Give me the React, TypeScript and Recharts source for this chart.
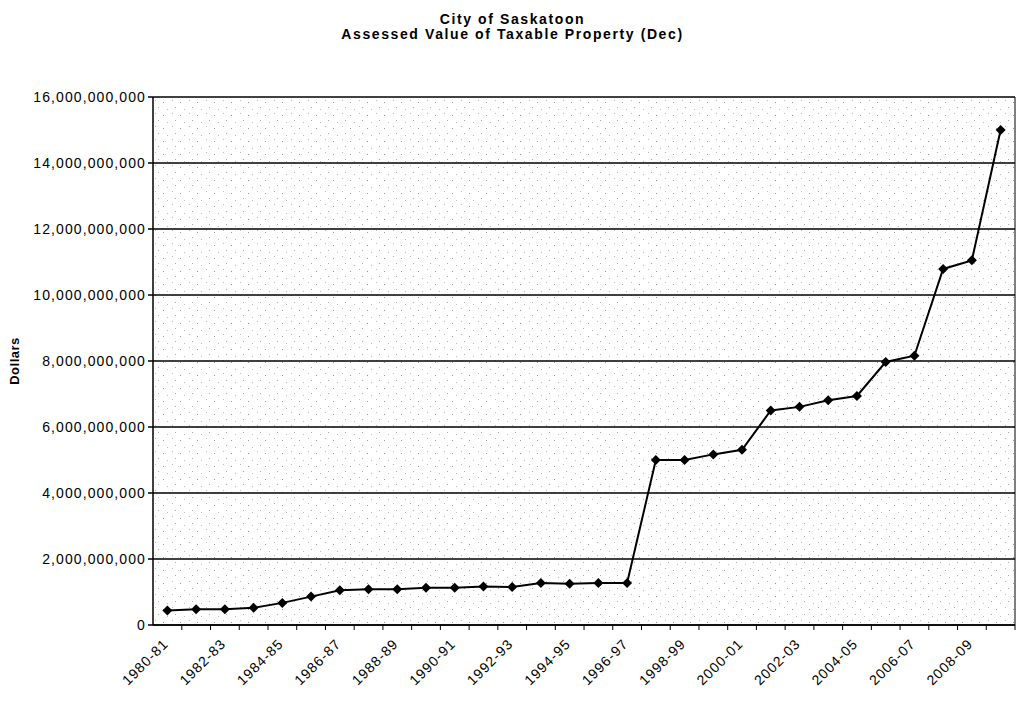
import { LineChart, Line, XAxis, YAxis, CartesianGrid } from "recharts";

const years = [
  "1980-81", "1981-82", "1982-83", "1983-84", "1984-85", "1985-86", "1986-87", "1987-88",
  "1988-89", "1989-90", "1990-91", "1991-92", "1992-93", "1993-94", "1994-95", "1995-96",
  "1996-97", "1997-98", "1998-99", "1999-00", "2000-01", "2001-02", "2002-03", "2003-04",
  "2004-05", "2005-06", "2006-07", "2007-08", "2008-09", "2009-10",
];

// billions of dollars
const assessedBillions = [
  0.44, 0.48, 0.48, 0.52, 0.67, 0.86, 1.05, 1.08, 1.08, 1.13, 1.13, 1.17, 1.15, 1.27, 1.25,
  1.27, 1.27, 5.0, 5.0, 5.17, 5.31, 6.5, 6.61, 6.81, 6.94, 7.97, 8.16, 10.79, 11.05, 15.0,
];

const yTicks = [0, 2e9, 4e9, 6e9, 8e9, 10e9, 12e9, 14e9, 16e9];

const data = years.map((year, i) => ({ year, value: assessedBillions[i] * 1e9 }));

const font = "Arial, 'Liberation Sans', sans-serif";
const halfStep = 14.4;

function Diamond(props: any) {
  const { cx, cy } = props;
  if (cx == null || cy == null) return null;
  const r = 5;
  return (
    <polygon
      points={`${cx},${cy - r} ${cx + r},${cy} ${cx},${cy + r} ${cx - r},${cy}`}
      fill="#000"
    />
  );
}

function YearTick(props: any) {
  const { x, y, payload, index } = props;
  return (
    <g>
      <line x1={x + halfStep} x2={x + halfStep} y1={y - 8} y2={y - 3} stroke="#000" />
      {index % 2 === 0 && (
        <g transform={`translate(${x - 1},${y + 9})`}>
          <text
            textAnchor="end"
            transform="rotate(-45)"
            fontSize={14}
            letterSpacing={1}
            fontFamily={font}
            fill="#000"
            dy={4}
          >
            {payload.value}
          </text>
        </g>
      )}
    </g>
  );
}

export default function App() {
  return (
    <div style={{ position: "relative", width: 1017, height: 694, fontFamily: font }}>
      <div
        style={{
          position: "absolute",
          top: 4,
          left: 0,
          width: 1009,
          textAlign: "center",
          fontWeight: "bold",
          fontSize: 14,
          letterSpacing: 1.6,
          lineHeight: "15px",
        }}
      >
        City of Saskatoon
        <br />
        Assessed Value of Taxable Property (Dec)
      </div>
      <div
        style={{
          position: "absolute",
          left: -23,
          top: 345,
          width: 60,
          height: 16,
          lineHeight: "16px",
          textAlign: "center",
          fontWeight: "bold",
          fontSize: 13,
          letterSpacing: 0.5,
          transform: "rotate(-90deg)",
        }}
      >
        Dollars
      </div>
      <svg width={0} height={0} style={{ position: "absolute" }}>
        <defs>
          <pattern id="stipple" width="17" height="13" patternUnits="userSpaceOnUse">
            <rect width="17" height="13" fill="#fff" />
            <rect x="2" y="3" width="1" height="1" fill="#999" />
            <rect x="11" y="1" width="1" height="1" fill="#bbb" />
            <rect x="14" y="8" width="1" height="1" fill="#aaa" />
            <rect x="6" y="10" width="1" height="1" fill="#bbb" />
          </pattern>
        </defs>
      </svg>
      <LineChart
        width={1017}
        height={694}
        data={data}
        margin={{ top: 89, right: 9, bottom: 7, left: 0 }}
      >
        <CartesianGrid
          vertical={false}
          stroke="#000"
          strokeWidth={1.5}
          fill="url(#stipple)"
          horizontalValues={yTicks}
        />
        <XAxis
          dataKey="year"
          interval={0}
          height={70}
          stroke="#000"
          strokeWidth={1.5}
          tickLine={false}
          tick={<YearTick />}
          padding={{ left: halfStep, right: halfStep }}
        />
        <YAxis
          width={145}
          domain={[0, 16e9]}
          ticks={yTicks}
          stroke="#000"
          strokeWidth={1.5}
          tickSize={5}
          tickFormatter={(v: number) => v.toLocaleString("en-US")}
          tick={{ fill: "#000", fontSize: 14, fontFamily: font, letterSpacing: 1.1 }}
        />
        <YAxis
          yAxisId="right"
          orientation="right"
          width={1}
          domain={[0, 16e9]}
          stroke="#000"
          tick={false}
          tickLine={false}
        />
        <Line
          type="linear"
          dataKey="value"
          stroke="#000"
          strokeWidth={2}
          dot={<Diamond />}
          isAnimationActive={false}
        />
      </LineChart>
    </div>
  );
}
